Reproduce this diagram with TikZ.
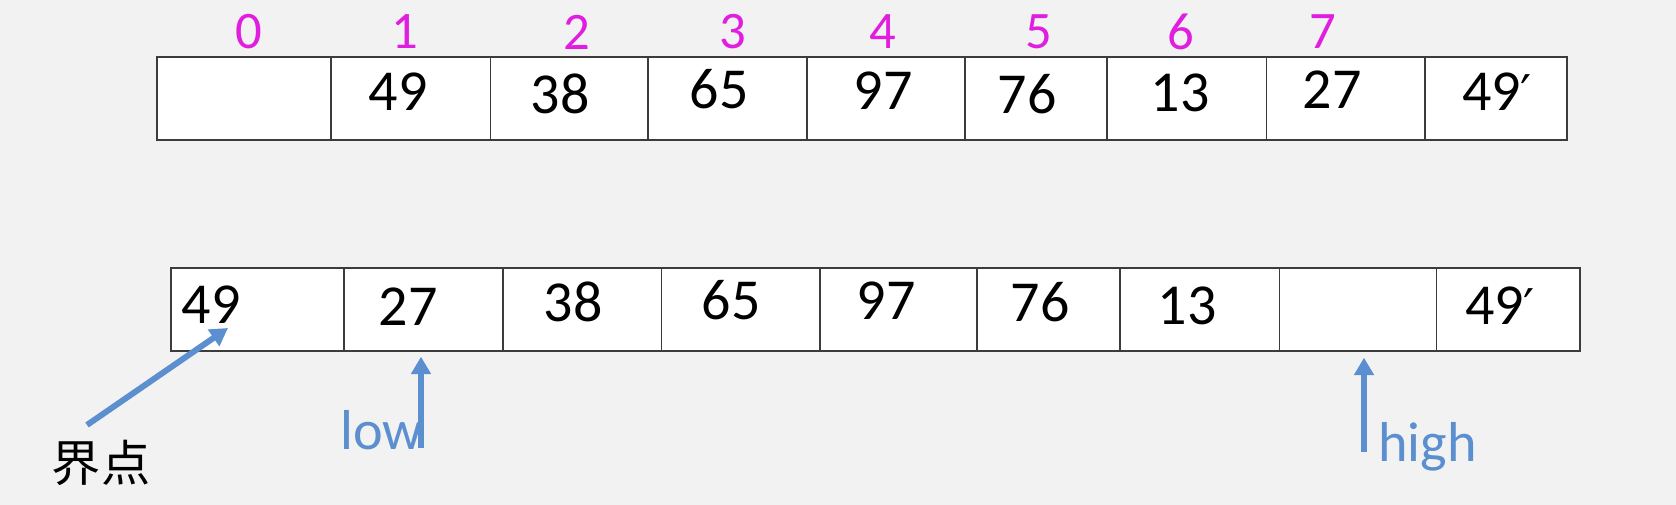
\documentclass[tikz,border=0pt]{standalone}
\usepackage{fontspec}
\setmainfont{Carlito}
\newfontfamily\cjk{Noto Sans CJK SC}
\newfontfamily\symf{DejaVu Sans}
\usetikzlibrary{arrows.meta}
\definecolor{bg}{HTML}{F2F2F2}
\definecolor{ed}{HTML}{3C3C3C}
\definecolor{ix}{HTML}{E01EE0}
\definecolor{pb}{HTML}{5B8FCF}

\tikzset{
  cell/.style={draw=ed,fill=white,line width=1pt,minimum height=16.6mm,inner sep=0pt},
  num/.style={font=\fontsize{33}{36}\selectfont,inner sep=0pt},
  idx/.style={text=ix,font=\fontsize{30}{33}\selectfont,inner sep=0pt},
  ptr/.style={pb,line width=3.4pt,-{Triangle[width=11pt,length=10pt]}},
  ptrtext/.style={text=pb,font=\fontsize{32}{35}\selectfont,inner sep=0pt}
}
\newcommand{\primed}[1]{#1{\symf\fontsize{28}{30}\selectfont ′}}

\begin{document}
\begin{tikzpicture}[x=0.2mm,y=-0.2mm]
  \fill[bg] (0,0) rectangle (1676,505);

  % Top array: cells (left edge / right edge)
  \foreach \i/\a/\b in {0/157/331, 1/331/490.6, 2/490.6/647.7, 3/647.7/807, 4/807/965,
                        5/965/1107, 6/1107/1266.6, 7/1266.6/1424.8, 8/1424.8/1567} {
    \node[cell,minimum width={(\b-\a)*0.2mm}] (t\i) at ({(\a+\b)/2},98.3) {};
  }

  % Top array: values
  \foreach \i/\x/\y/\v in {1/398/92/49, 2/560/94/38, 3/719/89/65, 4/883/91/97,
                           5/1027/94/76, 6/1180/93/13, 7/1332/90/27, 8/1497/92/\primed{49}} {
    \node[num] (tv\i) at (\x,\y) {\v};
  }

  % Index numbers above the top array
  \foreach \i/\x in {0/249, 1/405, 2/577, 3/733, 4/883, 5/1039, 6/1181, 7/1323} {
    \node[idx] (ix\i) at (\x,32) {\i};
  }

  % Bottom array: cells
  \foreach \i/\a/\b in {0/171/344, 1/344/503, 2/503/661.6, 3/661.6/820, 4/820/977,
                        5/977/1120, 6/1120/1279.5, 7/1279.5/1436.6, 8/1436.6/1580} {
    \node[cell,minimum width={(\b-\a)*0.2mm}] (b\i) at ({(\a+\b)/2},309.3) {};
  }

  % Bottom array: values
  \foreach \i/\x/\y/\v in {0/211/305/49, 1/408/307/27, 2/573/302/38, 3/731/300/65,
                           4/886/301/97, 5/1040/302/76, 6/1187/306/13, 8/1500/306/\primed{49}} {
    \node[num] (bv\i) at (\x,\y) {\v};
  }

  % Pivot pointer
  \node[font=\cjk\fontsize{28}{30}\selectfont,inner sep=0pt] (jd) at (101,463) {界点};
  \coordinate (jfoot) at (87,425);
  \coordinate (jtip) at (228,328);
  \draw[ptr] (jfoot) -- (jtip);

  % low / high pointers
  \node[ptrtext,anchor=base west] (lowtext) at (340,450) {low};
  \coordinate (lowfoot) at (421,448);
  \draw[ptr,shorten >=1mm] (lowfoot) -- (lowfoot |- b1.south);

  \node[ptrtext,anchor=base west] (hightext) at (1378,462) {high};
  \coordinate (highfoot) at (1364,452);
  \draw[ptr,shorten >=1.2mm] (highfoot) -- (highfoot |- b7.south);
\end{tikzpicture}
\end{document}
